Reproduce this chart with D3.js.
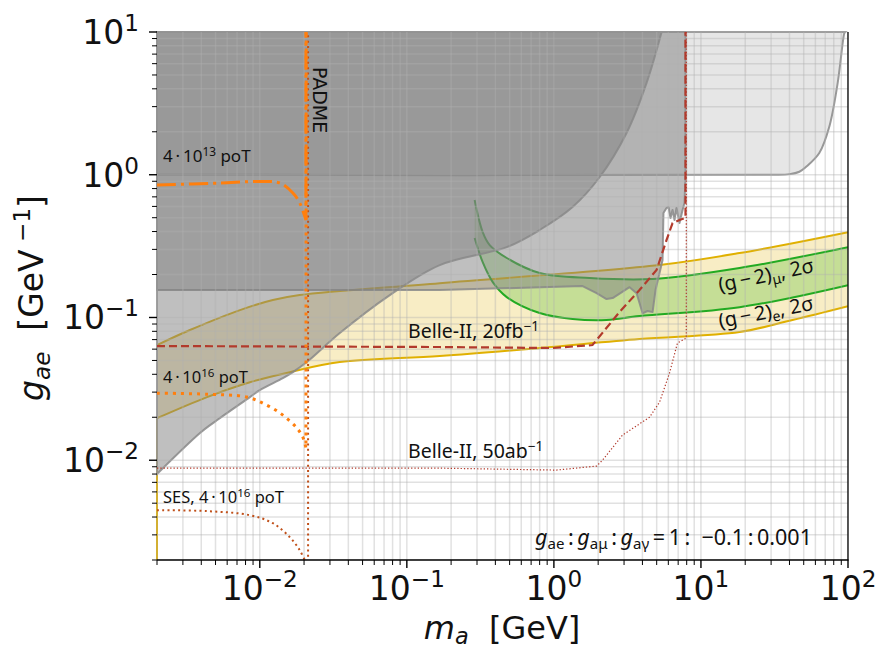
<!DOCTYPE html>
<html><head><meta charset="utf-8">
<script src="https://cdn.jsdelivr.net/npm/d3@7"></script>
<style>body{margin:0;background:#fff} text{white-space:pre}</style>
</head><body>
<svg id="chart" width="877" height="648"></svg>
<script>
// ---- data (m_a [GeV], g_ae [GeV^-1]) ----
const xDomain = [2e-3, 100];
const yDomain = [2e-3, 10];
const xTickExps = [-2, -1, 0, 1, 2];
const yTickExps = [-2, -1, 0, 1];

// excluded regions
const regionA = [[0.002,0.0080],[0.00392,0.0155],[0.0048,0.0182],[0.00857,0.0277],[0.0100,0.031],[0.01436,0.0376],[0.0168,0.0414],[0.0209,0.0487],[0.035,0.0778],[0.0766,0.1436],[0.1675,0.233],[0.478,0.311],[0.80,0.41],[1.34,0.594],[2.05,0.964],[3.12,1.96],[4.27,4.40],[5.40,10]];
const regionB = [[0.002,0.1556],[0.1675,0.1556],[1.567,0.166],[1.95,0.148],[2.28,0.1346],[2.51,0.1368],[3.27,0.163],[3.65,0.148],[4.01,0.107],[4.33,0.111],[4.69,0.109],[4.91,0.1556],[5.23,0.205],[5.48,0.252],[5.56,0.54],[5.83,0.585],[6.02,0.592],[6.21,0.498],[6.41,0.566],[6.61,0.482],[6.82,0.585],[7.15,0.459],[7.50,0.566],[7.73,0.634],[7.85,0.964],[7.85,10],[0.002,10]];
const regionC = [[0.002,1.0],[30,1.0],[40,1.01],[46.7,1.05],[52.1,1.14],[63.8,1.42],[74.6,2.17],[85,4.37],[94.4,9.8],[95.5,10]];

// (g-2)_e band
const yellowUpper = [[0.002,0.0641],[0.00335,0.0817],[0.00733,0.1127],[0.01227,0.1324],[0.0187,0.1436],[0.1675,0.174],[5.23,0.233],[18.3,0.2825],[100,0.396]];
const yellowLower = [[0.002,0.0015],[0.002,0.0197],[0.00438,0.0277],[0.00857,0.0352],[0.0160,0.0414],[0.035,0.0487],[0.1675,0.0537],[0.80,0.0611],[3.82,0.0706],[18.3,0.0791],[41.9,0.096],[100,0.120]];
// (g-2)_mu band
const greenUpper = [[0.289,0.665],[0.328,0.396],[0.366,0.321],[0.478,0.261],[0.80,0.205],[1.75,0.189],[4.69,0.186],[18.3,0.222],[100,0.311]];
const greenLower = [[0.289,0.36],[0.328,0.244],[0.384,0.177],[0.478,0.139],[0.80,0.1074],[1.34,0.0975],[2.28,0.0959],[3.82,0.1023],[18.3,0.118],[100,0.1686]];

// projections
const belle20 = [[0.002,0.0631],[0.1675,0.0621],[0.98,0.0611],[1.83,0.0641],[2.79,0.109],[3.82,0.1556],[4.99,0.215],[5.83,0.348],[6.41,0.459],[7.15,0.482],[7.85,0.498],[7.85,10]];
const belle50 = [[0.002,0.00881],[0.1675,0.0088],[1.04,0.00853],[1.95,0.0091],[2.14,0.0100],[2.93,0.0150],[4.47,0.0200],[5.23,0.0255],[6.11,0.0407],[6.92,0.0662],[7.95,0.0718],[7.95,10]];
const padme13 = [[0.002,0.847],[0.00536,0.875],[0.0100,0.896],[0.0137,0.875],[0.0168,0.745],[0.0187,0.634],[0.0206,0.482],[0.0206,10]];
const padme16 = [[0.002,0.0295],[0.00438,0.0290],[0.00817,0.0277],[0.01117,0.0243],[0.01436,0.0207],[0.01786,0.0168],[0.01963,0.0145],[0.0206,0.0122],[0.0207,10]];
const ses16 = [[0.002,0.00447],[0.00438,0.0044],[0.00857,0.00412],[0.01227,0.00362],[0.0160,0.00289],[0.0187,0.00234],[0.0202,0.002],[0.0206,0.0018],[0.0213,0.0018],[0.0213,10]];

// ---- drawing ----
const svg = d3.select("#chart");
const L = 157, R = 848, T = 32, B = 560;
const x = d3.scaleLog().domain(xDomain).range([L, R]);
const y = d3.scaleLog().domain(yDomain).range([B, T]);

svg.append("defs").append("clipPath").attr("id","clip")
  .append("rect").attr("x",L-1.5).attr("y",T-1.5).attr("width",R-L+1.5).attr("height",B-T+1.5);

const plot = svg.append("g").attr("clip-path","url(#clip)");
const lin = d3.line().x(d=>x(d[0])).y(d=>y(d[1]));
const cr = d3.line().x(d=>x(d[0])).y(d=>y(d[1])).curve(d3.curveCatmullRom.alpha(0.5));
const P = d => x(d[0]) + "," + y(d[1]);

// (g-2)_e band fill
plot.append("path")
  .attr("d", cr(yellowUpper) + cr(yellowLower.slice(1).reverse()).replace(/^M/,"L") + "Z")
  .attr("fill","#e8c43e").attr("fill-opacity",0.3);
// (g-2)_mu band fill
plot.append("path")
  .attr("d", cr(greenUpper) + cr(greenLower.slice().reverse()).replace(/^M/,"L") + "Z")
  .attr("fill","#78c850").attr("fill-opacity",0.4);
// band lines
plot.append("path").attr("d", cr(yellowUpper)).attr("fill","none").attr("stroke","#e0b000").attr("stroke-width",2);
plot.append("path").attr("d", lin(yellowLower.slice(0,2)) + cr(yellowLower.slice(1)).replace(/^M/,"L"))
  .attr("fill","none").attr("stroke","#e0b000").attr("stroke-width",2);
plot.append("path").attr("d", cr(greenUpper)).attr("fill","none").attr("stroke","#22aa22").attr("stroke-width",2);
plot.append("path").attr("d", cr(greenLower)).attr("fill","none").attr("stroke","#22aa22").attr("stroke-width",2);

// excluded regions
plot.append("path")
  .attr("d", cr(regionC) + "L" + P([0.002,10]) + "Z")
  .attr("fill","#808080").attr("fill-opacity",0.2)
  .attr("stroke","#888").attr("stroke-opacity",0.85).attr("stroke-width",2);
plot.append("path")
  .attr("d", lin(regionB) + "Z")
  .attr("fill","#808080").attr("fill-opacity",0.5)
  .attr("stroke","#888").attr("stroke-opacity",0.85).attr("stroke-width",2).attr("stroke-linejoin","round");
plot.append("path")
  .attr("d", cr(regionA) + "L" + P([0.002,10]) + "Z")
  .attr("fill","#808080").attr("fill-opacity",0.5)
  .attr("stroke","#888").attr("stroke-opacity",0.85).attr("stroke-width",2);

// grid (major + minor)
const xt = x.ticks(), yt = y.ticks();
plot.append("g").selectAll("line").data(xt).join("line")
  .attr("x1",d=>x(d)).attr("x2",d=>x(d)).attr("y1",T).attr("y2",B)
  .attr("stroke","#b0b0b0").attr("stroke-opacity",0.38).attr("stroke-width",1.5);
plot.append("g").selectAll("line").data(yt).join("line")
  .attr("y1",d=>y(d)).attr("y2",d=>y(d)).attr("x1",L).attr("x2",R)
  .attr("stroke","#b0b0b0").attr("stroke-opacity",0.38).attr("stroke-width",1.5);

// projection lines
plot.append("path").attr("d", lin(belle50)).attr("fill","none")
  .attr("stroke","#b23a2c").attr("stroke-width",1.2).attr("stroke-dasharray","1.3,2");
plot.append("path").attr("d", lin(belle20)).attr("fill","none")
  .attr("stroke","#b23a2c").attr("stroke-width",2.2).attr("stroke-dasharray","8,4");
plot.append("path").attr("d", cr(ses16.slice(0,7)) + lin(ses16.slice(6)).replace(/^M/,"L")).attr("fill","none")
  .attr("stroke","#c0501a").attr("stroke-width",2).attr("stroke-dasharray","2,3.3");
plot.append("path").attr("d", cr(padme16.slice(0,8)) + lin(padme16.slice(7)).replace(/^M/,"L")).attr("fill","none")
  .attr("stroke","#ff7f0e").attr("stroke-width",3).attr("stroke-dasharray","3,5");
plot.append("path").attr("d", cr(padme13.slice(0,7)) + lin(padme13.slice(6)).replace(/^M/,"L")).attr("fill","none")
  .attr("stroke","#ff7f0e").attr("stroke-width",3).attr("stroke-dasharray","19,5,3,5");

// spines (bottom, right)
svg.append("line").attr("x1",L).attr("x2",R+0.5).attr("y1",B).attr("y2",B).attr("stroke","#000").attr("stroke-width",1.3);
svg.append("line").attr("x1",R).attr("x2",R).attr("y1",T).attr("y2",B).attr("stroke","#000").attr("stroke-width",1.3);

// ticks
const isMajor = v => Math.abs(Math.log10(v) - Math.round(Math.log10(v))) < 1e-6;
svg.append("g").selectAll("line").data(xt).join("line")
  .attr("x1",d=>x(d)).attr("x2",d=>x(d)).attr("y1",B).attr("y2",d=>B+(isMajor(d)?8:5))
  .attr("stroke","#000").attr("stroke-width",d=>isMajor(d)?1.4:1);
svg.append("g").selectAll("line").data(yt).join("line")
  .attr("y1",d=>y(d)).attr("y2",d=>y(d)).attr("x1",L).attr("x2",d=>L-(isMajor(d)?8:5))
  .attr("stroke","#000").attr("stroke-width",d=>isMajor(d)?1.4:1);

// rich text helper
function rich(parent, px, py, parts, o) {
  o = o || {};
  const t = parent.append("text").attr("x",px).attr("y",py)
    .attr("font-family", o.font || "DejaVu Sans").attr("font-size", o.size)
    .attr("fill","#111").attr("text-anchor", o.anchor || "start");
  let shift = 0;
  parts.forEach(p => {
    let target = 0, fs = o.size;
    if (p.sup) { target = -(o.supRaise || o.size*0.4); fs = o.size*0.7; }
    if (p.sub) { target = (o.subDrop || o.size*0.22); fs = o.size*0.7; }
    const ts = t.append("tspan").text(p.t).attr("font-size", fs).attr("dy", target - shift);
    if (p.it) ts.attr("font-style","italic");
    shift = target;
  });
  return t;
}
const minus = "\u2212";
const expStr = e => (e < 0 ? minus : "") + Math.abs(e);

// tick labels
yTickExps.forEach(e => rich(svg, 139, y(Math.pow(10,e)) + 12, [{t:"10"},{t:expStr(e),sup:true}],
  {size:33, anchor:"end", supRaise:13}));
xTickExps.forEach(e => rich(svg, x(Math.pow(10,e)), 600, [{t:"10"},{t:expStr(e),sup:true}],
  {size:33, anchor:"middle", supRaise:13}));

// axis labels
rich(svg, 502, 639, [{t:"m",it:true},{t:"a",it:true,sub:true},{t:"  [GeV]"}], {size:32, anchor:"middle", subDrop:5});
rich(svg.append("g").attr("transform","translate(43,298) rotate(-90)"), 0, 0,
  [{t:"g",it:true},{t:"ae",it:true,sub:true},{t:"  [GeV"},{t:" " + minus + "1",sup:true},{t:"]"}],
  {size:33, anchor:"middle", subDrop:7, supRaise:13});

// annotations
const AF = "Noto Sans";
rich(svg, 163, 162, [{t:"4\u2009\u00b7\u200910"},{t:"13",sup:true},{t:" poT"}], {size:17, font:AF, supRaise:6});
rich(svg, 163, 382.5, [{t:"4\u2009\u00b7\u200910"},{t:"16",sup:true},{t:" poT"}], {size:16.5, font:AF, supRaise:6});
rich(svg, 163, 503, [{t:"SES, 4\u2009\u00b7\u200910"},{t:"16",sup:true},{t:" poT"}], {size:16.5, font:AF, supRaise:6});
rich(svg, 408, 338, [{t:"Belle-II, 20fb"},{t:minus+"1",sup:true}], {size:19.5, font:AF, supRaise:7});
rich(svg, 408, 458, [{t:"Belle-II, 50ab"},{t:minus+"1",sup:true}], {size:19.5, font:AF, supRaise:7});
rich(svg.append("g").attr("transform","translate(720,292) rotate(-12)"), 0, 0,
  [{t:"(g\u2009" + minus + "\u20092)"},{t:"\u03bc",sub:true},{t:", 2\u03c3"}], {size:20, font:AF, subDrop:4});
rich(svg.append("g").attr("transform","translate(720,328) rotate(-11)"), 0, 0,
  [{t:"(g\u2009" + minus + "\u20092)"},{t:"e",sub:true},{t:", 2\u03c3"}], {size:20, font:AF, subDrop:4});
rich(svg, 535, 545, [{t:"g",it:true},{t:"ae",sub:true},{t:"\u2009:\u2009"},{t:"g",it:true},{t:"a\u03bc",sub:true},
  {t:"\u2009:\u2009"},{t:"g",it:true},{t:"a\u03b3",sub:true},{t:"\u2009=\u20091\u2009:  " + minus + "0.1\u2009:\u20090.001"}],
  {size:21.5, font:AF, subDrop:4});
svg.append("g").attr("transform","translate(313,67) rotate(90)")
  .append("text").text("PADME").attr("font-family","DejaVu Sans").attr("font-size",19).attr("fill","#111");
</script>
</body></html>
